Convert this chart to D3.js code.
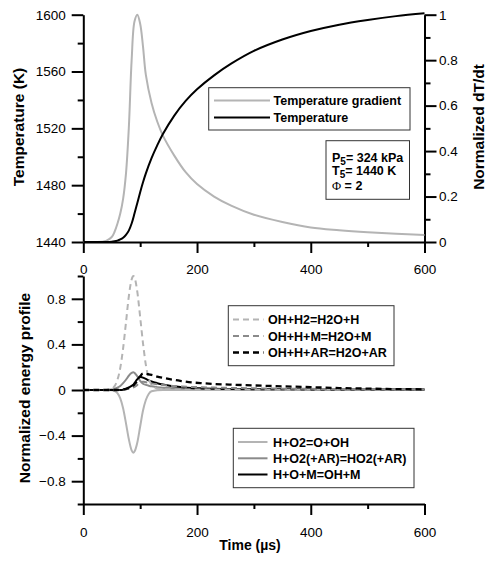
<!DOCTYPE html>
<html>
<head>
<meta charset="utf-8">
<script src="https://cdn.jsdelivr.net/npm/d3@7"></script>
<style>
  html, body { margin: 0; padding: 0; background: #fff; }
  svg { display: block; font-family: "Liberation Sans", Arial, sans-serif; }
  .tick text { font-size: 13.5px; fill: #000; }
  .axis path, .axis line { stroke: #000; stroke-width: 2; }
  .ttl { font-size: 15.5px; font-weight: bold; }
  .leg { font-size: 12.5px; font-weight: bold; }
</style>
</head>
<body>
<svg id="chart" width="486" height="561"></svg>
<script>
// ---- Upper panel: temperature history and its normalized gradient ----
const timeTop = [0, 20, 40, 50, 55, 60, 65, 70, 75, 80, 85, 90, 95, 100, 105, 110, 120, 130, 140, 160, 180, 200, 230, 260, 300, 350, 400, 450, 500, 550, 600];
const tempK = [1440, 1440, 1440, 1440.2, 1440.5, 1441, 1441.8, 1443, 1445, 1448, 1453, 1460, 1467.5, 1475, 1482, 1488.3, 1499, 1508, 1516, 1529, 1539.3, 1547.5, 1557.3, 1565.5, 1574.5, 1582.5, 1588.5, 1593, 1596.3, 1599, 1601];
const gradNorm = [0, 0, 0.005, 0.022, 0.045, 0.08, 0.125, 0.19, 0.3, 0.5, 0.8, 0.97, 1.0, 0.96, 0.86, 0.735, 0.612, 0.53, 0.468, 0.38, 0.307, 0.255, 0.2, 0.16, 0.12, 0.088, 0.064, 0.052, 0.043, 0.036, 0.031];

// ---- Lower panel: normalized energy profile per reaction ----
const timeBot = [0, 20, 40, 50, 55, 60, 65, 70, 75, 80, 85, 88, 90, 95, 100, 105, 110, 115, 120, 130, 140, 150, 160, 175, 190, 210, 230, 260, 300, 350, 400, 450, 500, 550, 600];
const rOHH2 = [0, 0, 0.001, 0.011, 0.034, 0.088, 0.194, 0.366, 0.59, 0.82, 0.97, 1.0, 0.988, 0.86, 0.64, 0.41, 0.22, 0.104, 0.045, 0.014, 0.008, 0.006, 0.005, 0.005, 0.004, 0.004, 0.004, 0.004, 0.003, 0.003, 0.003, 0.003, 0.003, 0.003, 0.003];
const rOHHM = [0, 0, 0, 0, 0, 0, 0.001, 0.002, 0.005, 0.01, 0.016, 0.022, 0.027, 0.045, 0.065, 0.072, 0.068, 0.063, 0.058, 0.05, 0.044, 0.039, 0.035, 0.03, 0.027, 0.024, 0.021, 0.018, 0.015, 0.012, 0.01, 0.008, 0.006, 0.005, 0.004];
const rOHHAR = [0, 0, 0, 0, 0, 0, 0.002, 0.005, 0.01, 0.018, 0.03, 0.04, 0.05, 0.08, 0.12, 0.145, 0.143, 0.138, 0.132, 0.118, 0.107, 0.097, 0.088, 0.077, 0.067, 0.059, 0.053, 0.047, 0.04, 0.032, 0.025, 0.017, 0.012, 0.008, 0.006];
const rHO2 = [0, 0, 0, -0.002, -0.009, -0.028, -0.074, -0.16, -0.29, -0.43, -0.53, -0.55, -0.54, -0.46, -0.32, -0.18, -0.088, -0.035, -0.011, -0.002, 0, 0, 0, 0, 0, 0, 0, 0, 0, 0, 0, 0, 0, 0, 0];
const rHO2AR = [0, 0, 0.001, 0.004, 0.01, 0.02, 0.035, 0.06, 0.09, 0.125, 0.15, 0.155, 0.15, 0.12, 0.08, 0.055, 0.045, 0.038, 0.032, 0.025, 0.02, 0.017, 0.015, 0.013, 0.011, 0.01, 0.009, 0.008, 0.007, 0.006, 0.006, 0.005, 0.005, 0.005, 0.005];
const rHOM = [0, 0, 0, 0, 0, 0, 0, 0.002, 0.01, 0.022, 0.037, 0.046, 0.06, 0.095, 0.117, 0.108, 0.097, 0.085, 0.075, 0.06, 0.048, 0.039, 0.032, 0.024, 0.018, 0.014, 0.011, 0.009, 0.007, 0.006, 0.005, 0.005, 0.005, 0.005, 0.005];

// Tick values
const xMajor = [0, 200, 400, 600];
const xMinor = [100, 300, 500];
const tempMajor = [1440, 1480, 1520, 1560, 1600];
const tempMinor = [1460, 1500, 1540, 1580];
const gradMajor = [0, 0.2, 0.4, 0.6, 0.8, 1];
const gradMinor = [0.1, 0.3, 0.5, 0.7, 0.9];
const energyMajor = [-0.8, -0.4, 0, 0.4, 0.8];
const energyMinor = [-1, -0.6, -0.2, 0.2, 0.6, 1];

const LIGHT = "#b4b4b4", MID = "#8a8a8a", DARK = "#000";

const svg = d3.select("#chart");

const x = d3.scaleLinear().domain([0, 600]).range([83.3, 424.5]);
const yT = d3.scaleLinear().domain([1440, 1600]).range([242, 14.7]);
const yG = d3.scaleLinear().domain([0, 1]).range([242, 14.7]);
const yE = d3.scaleLinear().domain([-1, 1]).range([504, 276]);

const fmt = d => (d === 0 ? "0" : d3.format("")(d));

function axisPair(gen, scale, major, minor, tf, transform, majLen, minLen) {
  const gMaj = svg.append("g").attr("class", "axis").attr("transform", transform)
    .call(gen(scale).tickValues(major).tickSize(majLen).tickSizeOuter(0).tickPadding(tf.pad).tickFormat(tf.fmt));
  const gMin = svg.append("g").attr("class", "axis").attr("transform", transform)
    .call(gen(scale).tickValues(minor).tickSize(minLen).tickSizeOuter(0).tickFormat(""));
  gMin.select(".domain").remove();
  gMaj.selectAll(".tick text").attr("font-family", "Liberation Sans, Arial, sans-serif");
  return gMaj;
}

// Upper panel axes
axisPair(d3.axisBottom, x, xMajor, xMinor, {pad: 11, fmt: d3.format("d")}, "translate(0,242)", 11, 5);
axisPair(d3.axisLeft, yT, tempMajor, tempMinor, {pad: 6, fmt: d3.format("d")}, "translate(83.3,0)", 11.6, 5.6);
axisPair(d3.axisRight, yG, gradMajor, gradMinor, {pad: 2.5, fmt: fmt}, "translate(424.5,0)", 12, 6);

// Lower panel axes
axisPair(d3.axisBottom, x, xMajor, xMinor, {pad: 12, fmt: d3.format("d")}, "translate(0,504)", 11, 5);
axisPair(d3.axisLeft, yE, energyMajor, energyMinor, {pad: 6, fmt: fmt}, "translate(83.3,0)", 11.6, 5.6);

// Axis titles
svg.append("text").attr("class", "ttl").attr("text-anchor", "middle")
  .attr("transform", "translate(24,127) rotate(-90)").text("Temperature (K)");
svg.append("text").attr("class", "ttl").attr("text-anchor", "middle")
  .attr("transform", "translate(484,127) rotate(-90)").text("Normalized dT/dt");
svg.append("text").attr("class", "ttl").attr("text-anchor", "middle")
  .attr("transform", "translate(29.5,388) rotate(-90)").text("Normalized energy profile");
svg.append("text").attr("class", "ttl").attr("text-anchor", "middle")
  .attr("x", 250).attr("y", 550).style("font-size", "14px").text("Time (\u00b5s)");

// Curves
function drawLine(times, values, yScale, color, width, dash, curve) {
  const pts = times.map((t, i) => [t, values[i]]);
  const line = d3.line().x(d => x(d[0])).y(d => yScale(d[1])).curve(curve || d3.curveMonotoneX);
  svg.append("path").datum(pts).attr("d", line)
    .attr("fill", "none").attr("stroke", color).attr("stroke-width", width)
    .attr("stroke-dasharray", dash || null).attr("stroke-linejoin", "round");
}

const smooth = d3.curveCatmullRom.alpha(0.5);
drawLine(timeTop, gradNorm, yG, LIGHT, 2, null, smooth);
drawLine(timeTop, tempK, yT, DARK, 2, null, smooth);

drawLine(timeBot, rHO2, yE, LIGHT, 2);
drawLine(timeBot, rHO2AR, yE, MID, 2);
drawLine(timeBot, rHOM, yE, DARK, 2);
drawLine(timeBot, rOHH2, yE, LIGHT, 2, "6,4");
drawLine(timeBot, rOHHM, yE, MID, 2, "6,4");
drawLine(timeBot, rOHHAR, yE, DARK, 2.3, "6,4");

// Legends
function legendBox(x0, y0, x1, y1) {
  svg.append("rect").attr("x", x0).attr("y", y0).attr("width", x1 - x0).attr("height", y1 - y0)
    .attr("fill", "#fff").attr("stroke", "#333").attr("stroke-width", 1);
}
function legendRow(lx0, lx1, tx, y, color, width, dash, label) {
  svg.append("line").attr("x1", lx0).attr("x2", lx1).attr("y1", y).attr("y2", y)
    .attr("stroke", color).attr("stroke-width", width).attr("stroke-dasharray", dash || null);
  svg.append("text").attr("class", "leg").attr("x", tx).attr("y", y).attr("dy", "0.36em").text(label);
}

const topNames = ["Temperature gradient", "Temperature"];
legendBox(208.7, 87.7, 410, 130);
legendRow(214, 270, 273.5, 100.5, LIGHT, 2, null, topNames[0]);
legendRow(214, 270, 273.5, 117.5, DARK, 2, null, topNames[1]);

const dashNames = ["OH+H2=H2O+H", "OH+H+M=H2O+M", "OH+H+AR=H2O+AR"];
legendBox(228.3, 305.7, 394, 365.7);
legendRow(233, 263.5, 268, 319.5, LIGHT, 2, "6,4", dashNames[0]);
legendRow(233, 263.5, 268, 336, MID, 2, "6,4", dashNames[1]);
legendRow(233, 263.5, 268, 352.5, DARK, 2.3, "6,4", dashNames[2]);

const solidNames = ["H+O2=O+OH", "H+O2(+AR)=HO2(+AR)", "H+O+M=OH+M"];
legendBox(233.3, 428.3, 414, 487.7);
legendRow(238, 267.5, 273, 442, LIGHT, 2, null, solidNames[0]);
legendRow(238, 267.5, 273, 458.3, MID, 2, null, solidNames[1]);
legendRow(238, 267.5, 273, 474.5, DARK, 2, null, solidNames[2]);

// Conditions box
legendBox(326, 140.7, 409.5, 199.3);
const cond = svg.append("g").attr("class", "leg");
const p = cond.append("text").attr("x", 332).attr("y", 161.5);
p.append("tspan").text("P");
p.append("tspan").attr("dy", 3).style("font-size", "10px").text("5");
p.append("tspan").attr("dy", -3).text("= 324 kPa");
const tt = cond.append("text").attr("x", 332).attr("y", 175);
tt.append("tspan").text("T");
tt.append("tspan").attr("dy", 3).style("font-size", "10px").text("5");
tt.append("tspan").attr("dy", -3).text("= 1440 K");
const ph = cond.append("text").attr("x", 332).attr("y", 189.5);
ph.append("tspan").style("font-family", "Liberation Serif, serif").style("font-weight", "normal").text("\u03a6");
ph.append("tspan").text(" = 2");
</script>
</body>
</html>
